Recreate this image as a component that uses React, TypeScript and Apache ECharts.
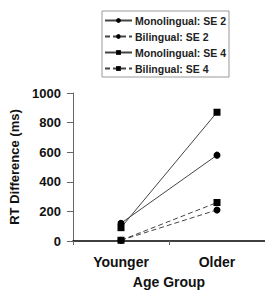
import React, { useEffect, useRef } from "react";
import * as echarts from "echarts";

const categories = ["Younger", "Older"];
const monoSE2 = [120, 580];
const biliSE2 = [5, 210];
const monoSE4 = [90, 870];
const biliSE4 = [5, 260];
const yTicks = { min: 0, max: 1000, interval: 200 };

export default function App() {
  const ref = useRef<HTMLDivElement>(null);
  useEffect(() => {
    const chart = echarts.init(ref.current!, null, { renderer: "svg" });
    const font = "'Liberation Sans', Arial, sans-serif";
    const mk = (name: string, data: number[], dashed: boolean, symbol: string, size: number) => ({
      name,
      type: "line",
      data,
      symbol,
      symbolSize: size,
      lineStyle: { color: "#444", width: 1, type: dashed ? [5, 3] : "solid" },
      itemStyle: { color: "#000" },
    });
    chart.setOption({
      animation: false,
      textStyle: { fontFamily: font },
      legend: {
        orient: "vertical",
        left: 102,
        top: 11,
        width: 128,
        itemWidth: 27,
        itemHeight: 6,
        itemGap: 5,
        padding: [4, 3, 3, 2],
        borderColor: "#999",
        borderWidth: 1,
        textStyle: { fontFamily: font, fontSize: 10.5, fontWeight: "bold", color: "#222", padding: [0, 0, 0, -2] },
        data: ["Monolingual: SE 2", "Bilingual: SE 2", "Monolingual: SE 4", "Bilingual: SE 4"],
      },
      grid: { left: 71, right: 0, top: 93, bottom: 49 },
      xAxis: {
        type: "category",
        data: categories,
        boundaryGap: true,
        name: "Age Group",
        nameLocation: "middle",
        nameGap: 34,
        nameTextStyle: { fontFamily: font, fontSize: 14, fontWeight: "bold", color: "#111" },
        axisLine: { lineStyle: { color: "#000", width: 1.5 } },
        axisTick: { show: true, length: 4, inside: false, lineStyle: { color: "#666" } },
        axisLabel: { fontFamily: font, fontSize: 14, fontWeight: "bold", color: "#111", margin: 14 },
      },
      yAxis: {
        type: "value",
        min: yTicks.min,
        max: yTicks.max,
        interval: yTicks.interval,
        name: "RT Difference (ms)",
        nameLocation: "middle",
        nameGap: 52,
        nameRotate: 90,
        nameTextStyle: { fontFamily: font, fontSize: 13, fontWeight: "bold", color: "#111" },
        splitLine: { show: false },
        axisLine: { show: true, lineStyle: { color: "#666", width: 1 } },
        axisTick: { show: true, length: 6, lineStyle: { color: "#666" } },
        axisLabel: {
          fontFamily: font,
          fontSize: 13,
          fontWeight: "bold",
          color: "#111",
          margin: 12,
          formatter: (v: number) => String(v),
        },
      },
      series: [
        mk("Monolingual: SE 2", monoSE2, false, "circle", 7),
        mk("Bilingual: SE 2", biliSE2, true, "circle", 7),
        mk("Monolingual: SE 4", monoSE4, false, "rect", 7),
        mk("Bilingual: SE 4", biliSE4, true, "rect", 7),
      ],
    });
    return () => chart.dispose();
  }, []);
  return <div ref={ref} style={{ width: 265, height: 294, position: "absolute", left: 0, top: 0 }} />;
}
